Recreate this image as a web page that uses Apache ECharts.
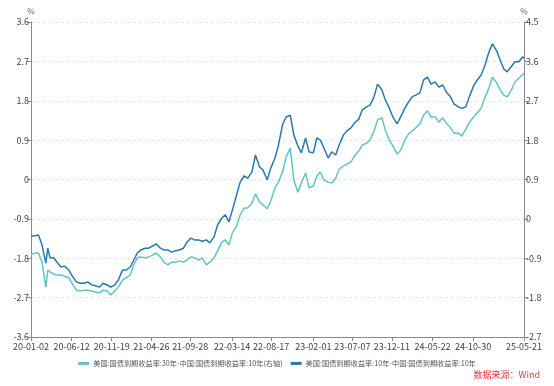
<!DOCTYPE html>
<html><head><meta charset="utf-8">
<script src="https://cdn.jsdelivr.net/npm/echarts@6/dist/echarts.min.js"></script>
<style>html,body{margin:0;padding:0;background:#fff}#c{width:554px;height:386px}</style>
</head><body><div id="c"></div>
<script>
const dates = [
'2020-01-02','2020-01-15','2020-02-01','2020-02-15','2020-03-01','2020-03-09','2020-03-18','2020-04-01','2020-04-15','2020-05-01','2020-05-15','2020-06-01','2020-06-15','2020-07-01','2020-07-15','2020-08-01','2020-08-15','2020-09-01','2020-09-15','2020-10-01','2020-10-15','2020-11-01','2020-11-15','2020-12-01','2020-12-15',
'2021-01-01','2021-01-15','2021-02-01','2021-02-15','2021-03-01','2021-03-15','2021-04-01','2021-04-15','2021-05-01','2021-05-15','2021-06-01','2021-06-15','2021-07-01','2021-07-15','2021-08-01','2021-08-15','2021-09-01','2021-09-15','2021-10-01','2021-10-15','2021-11-01','2021-11-15','2021-12-01','2021-12-15',
'2022-01-01','2022-01-15','2022-02-01','2022-02-15','2022-03-01','2022-03-15','2022-04-01','2022-04-15','2022-05-01','2022-05-15','2022-06-01','2022-06-15','2022-07-01','2022-07-15','2022-08-01','2022-08-15','2022-09-01','2022-09-15','2022-10-01','2022-10-15','2022-11-01','2022-11-15','2022-12-01','2022-12-15',
'2023-01-01','2023-01-15','2023-02-01','2023-02-15','2023-03-01','2023-03-15','2023-04-01','2023-04-15','2023-05-01','2023-05-15','2023-06-01','2023-06-15','2023-07-01','2023-07-15','2023-08-01','2023-08-15','2023-09-01','2023-09-15','2023-10-01','2023-10-15','2023-11-01','2023-11-15','2023-12-01','2023-12-15',
'2024-01-01','2024-01-15','2024-02-01','2024-02-15','2024-03-01','2024-03-15','2024-04-01','2024-04-15','2024-05-01','2024-05-15','2024-06-01','2024-06-15','2024-07-01','2024-07-15','2024-08-01','2024-08-15','2024-09-01','2024-09-15','2024-10-01','2024-10-15','2024-11-01','2024-11-15','2024-12-01','2024-12-15',
'2025-01-01','2025-01-15','2025-02-01','2025-02-15','2025-03-01','2025-03-15','2025-04-01','2025-04-15','2025-05-01','2025-05-15','2025-05-21'
];
// US 30Y - China 10Y (right axis)
const spread30 = [
-0.83,-0.78,-0.78,-0.99,-1.56,-1.17,-1.21,-1.26,-1.28,-1.28,-1.31,-1.35,-1.49,-1.63,-1.65,-1.63,-1.63,-1.65,-1.67,-1.69,-1.63,-1.65,-1.74,-1.65,-1.56,
-1.40,-1.35,-1.28,-1.05,-0.89,-0.87,-0.89,-0.87,-0.83,-0.78,-0.87,-0.99,-1.05,-0.99,-0.99,-0.96,-0.99,-0.94,-0.87,-0.89,-0.94,-0.89,-1.05,-0.99,
-0.89,-0.73,-0.53,-0.48,-0.60,-0.32,-0.16,0.09,0.25,0.25,0.36,0.57,0.39,0.32,0.23,0.41,0.71,0.84,1.07,1.41,1.62,0.89,0.61,0.82,
1.05,0.71,0.75,0.98,1.07,0.89,0.84,0.82,0.93,1.14,1.21,1.25,1.30,1.44,1.55,1.69,1.73,1.80,2.01,2.26,2.31,2.03,1.80,1.67,
1.48,1.57,1.80,1.94,2.01,2.08,2.17,2.37,2.47,2.33,2.33,2.21,2.31,2.19,2.08,1.96,1.96,1.89,2.05,2.21,2.33,2.42,2.53,2.76,
2.99,3.24,3.11,2.95,2.83,2.79,2.95,3.13,3.22,3.29,3.33
];
// US 10Y - China 10Y (left axis)
const spread10 = [
-1.29,-1.29,-1.27,-1.50,-1.91,-1.57,-1.79,-1.79,-1.89,-2.00,-1.98,-2.07,-2.21,-2.34,-2.37,-2.37,-2.34,-2.41,-2.43,-2.46,-2.37,-2.41,-2.46,-2.41,-2.30,
-2.07,-2.07,-2.00,-1.84,-1.68,-1.61,-1.57,-1.57,-1.52,-1.47,-1.57,-1.61,-1.61,-1.66,-1.63,-1.61,-1.57,-1.43,-1.34,-1.38,-1.38,-1.41,-1.38,-1.45,
-1.31,-1.04,-0.88,-0.81,-0.97,-0.70,-0.35,-0.06,0.08,0.03,0.17,0.56,0.29,0.22,-0.01,0.26,0.49,0.79,1.25,1.43,1.47,1.02,0.77,0.61,
0.95,0.63,0.61,0.95,0.90,0.72,0.49,0.63,0.56,0.79,1.02,1.11,1.18,1.29,1.38,1.59,1.66,1.70,1.89,2.18,2.05,1.82,1.63,1.43,
1.27,1.43,1.63,1.77,1.89,1.93,1.98,2.27,2.34,2.18,2.23,2.11,2.16,2.00,1.89,1.73,1.66,1.63,1.66,1.89,2.14,2.27,2.39,2.59,
2.91,3.10,2.94,2.73,2.53,2.46,2.59,2.69,2.69,2.80,2.78
];
const xTickDates = ['2020-01-02','2020-06-12','2020-11-19','2021-04-26','2021-09-28','2022-03-14','2022-08-17','2023-02-01','2023-07-07','2023-12-11','2024-05-22','2024-10-30','2025-05-21'];
const seriesNames = ['美国:国债到期收益率:30年-中国:国债到期收益率:10年(右轴)','美国:国债到期收益率:10年-中国:国债到期收益率:10年'];
const sourceText = '数据来源：Wind';

const ts = s => { const p = s.split('-'); return Date.UTC(+p[0], +p[1]-1, +p[2]); };
const fmtDate = v => { const d = new Date(v); const p = n => String(n).padStart(2,'0'); return p(d.getUTCFullYear()%100)+'-'+p(d.getUTCMonth()+1)+'-'+p(d.getUTCDate()); };
const fmtNum = v => String(+(+v).toFixed(1));
const FONT = '"Noto Sans CJK SC", "Noto Sans", sans-serif';
const axisColor = '#8a8a8a';
const labelColor = '#444';
const tickTs = xTickDates.map(ts);

const chart = echarts.init(document.getElementById('c'), null, {renderer:'canvas'});
chart.setOption({
  animation: false,
  backgroundColor: '#fff',
  textStyle: {fontFamily: FONT},
  grid: {left: 31, right: 30, top: 22, bottom: 49, containLabel: false},
  legend: {
    bottom: 14, left: 'center', itemWidth: 11, itemHeight: 3, itemGap: 8,
    icon: 'rect',
    textStyle: {fontSize: 7.2, color: '#555', fontFamily: FONT, padding: [0,0,0,-1]},
    data: seriesNames
  },
  graphic: [{
    type: 'text', right: 14, bottom: 7,
    style: {text: sourceText, fill: '#e8363a', fontSize: 9, fontFamily: FONT}
  }],
  xAxis: {
    type: 'value',
    min: tickTs[0], max: tickTs[tickTs.length-1],
    axisLine: {onZero: false, lineStyle: {color: axisColor}},
    axisTick: {show: true, customValues: tickTs, length: 4, lineStyle: {color: axisColor}},
    axisLabel: {customValues: tickTs, formatter: fmtDate, fontSize: 9, color: labelColor, margin: 5, hideOverlap: false, showMinLabel: true, showMaxLabel: true},
    splitLine: {show: false}
  },
  yAxis: [{
    type: 'value', min: -3.6, max: 3.6, interval: 0.9,
    name: '%', nameGap: 7, nameTextStyle: {fontSize: 8, color: '#666'},
    axisLine: {show: true, lineStyle: {color: axisColor}},
    axisTick: {show: true, length: 4, lineStyle: {color: axisColor}},
    axisLabel: {formatter: fmtNum, fontSize: 9, color: labelColor, margin: 2},
    splitLine: {show: true, lineStyle: {color: '#e6e6e6', type: [3,3]}}
  },{
    type: 'value', min: -2.7, max: 4.5, interval: 0.9,
    name: '%', nameGap: 7, nameTextStyle: {fontSize: 8, color: '#666'},
    axisLine: {show: true, lineStyle: {color: axisColor}},
    axisTick: {show: true, length: 4, lineStyle: {color: axisColor}},
    axisLabel: {formatter: fmtNum, fontSize: 9, color: labelColor, margin: 2},
    splitLine: {show: false}
  }],
  series: [{
    name: seriesNames[0], type: 'line', yAxisIndex: 1, showSymbol: false, symbol: 'none',
    data: dates.map((d,i) => [ts(d), spread30[i]]),
    lineStyle: {width: 1.5, color: '#62c5c3'}, itemStyle: {color: '#62c5c3'}
  },{
    name: seriesNames[1], type: 'line', yAxisIndex: 0, showSymbol: false, symbol: 'none',
    data: dates.map((d,i) => [ts(d), spread10[i]]),
    lineStyle: {width: 1.5, color: '#2a78ad'}, itemStyle: {color: '#2a78ad'}
  }]
});
</script></body></html>
